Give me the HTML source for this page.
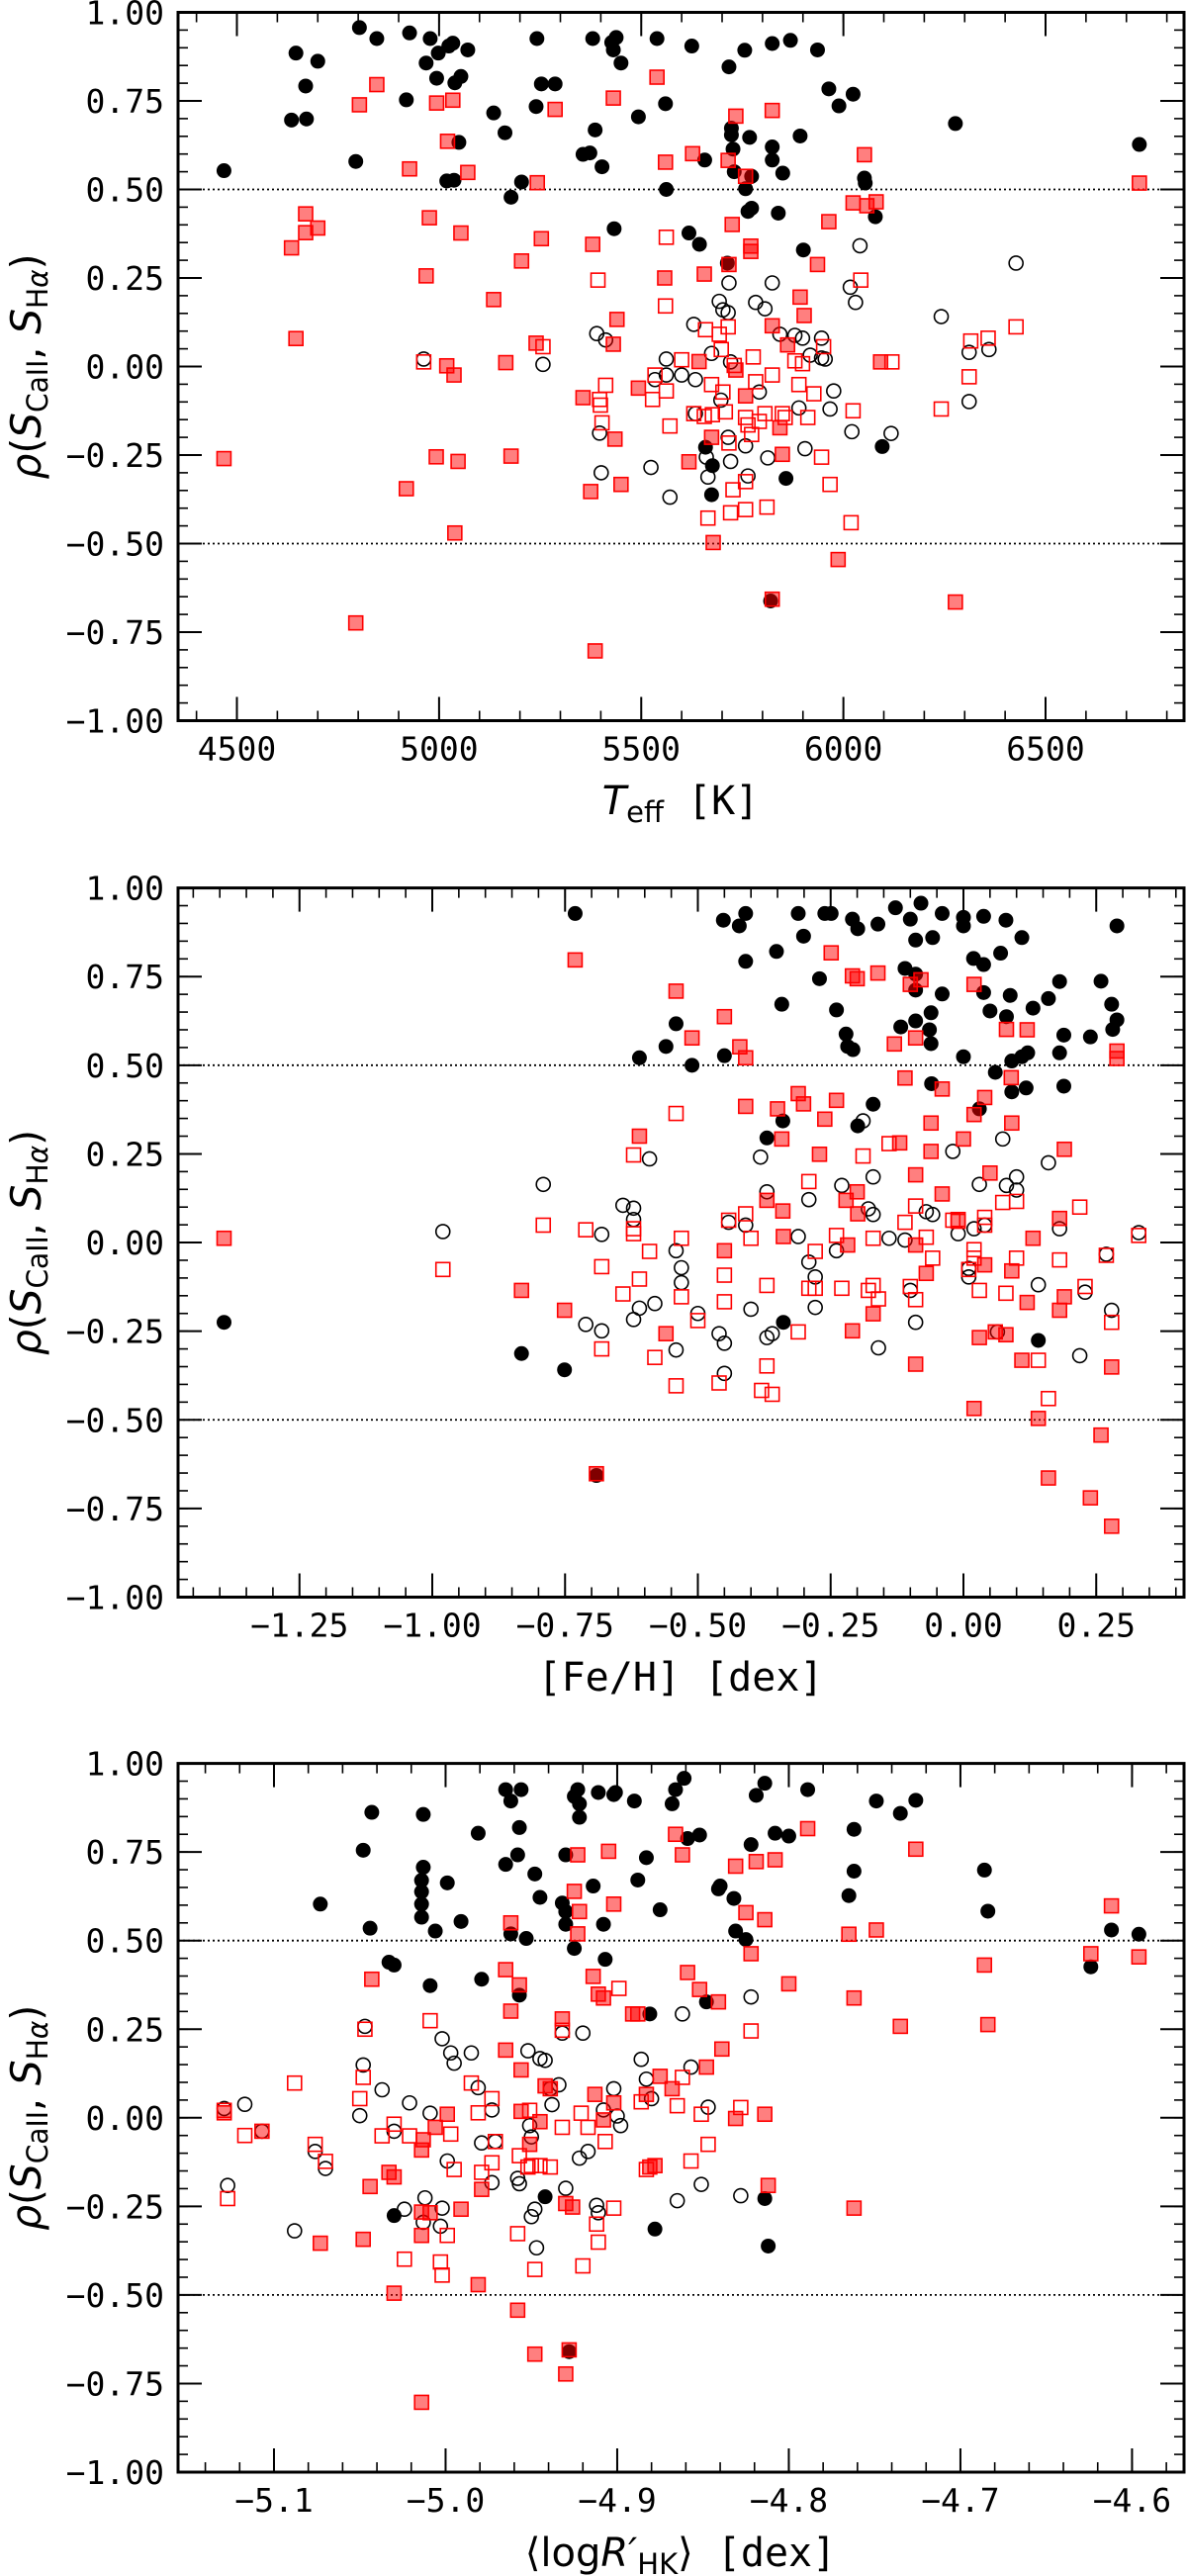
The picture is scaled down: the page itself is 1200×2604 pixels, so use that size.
<!DOCTYPE html>
<html><head><meta charset="utf-8"><title>rho(SCaII, SHalpha) vs stellar parameters</title>
<style>
html,body{margin:0;padding:0;background:#fff;}
svg{display:block;}
.tk{font-family:"DejaVu Sans Mono","Liberation Mono",monospace;font-size:33px;fill:#000;}
.lab{font-family:"DejaVu Sans Mono","Liberation Mono",monospace;font-size:40px;fill:#000;}
.math{font-family:"DejaVu Sans","Liberation Sans",sans-serif;}
</style></head>
<body>
<svg id="fig" width="1200" height="2604" viewBox="0 0 1200 2604" xmlns="http://www.w3.org/2000/svg">
<rect width="1200" height="2604" fill="#fff"/>
</svg>
<script>
// ---------------- Panel 1: Teff ----------------
const p1FilledX=[4468,4646,4635,4670,4672,4700,4794,4803,4846,4919,4927,4968,4978,4994,4998,5019,5024,5037,5039,5034,5049,5054,5071,5135,5163,5178,5204,5240,5242,5253,5287,5356,5373,5380,5386,5403,5427,5433,5438,5431,5450,5493,5539,5560,5562,5618,5625,5644,5657,5717,5723,5723,5727,5730,5758,5756,5768,5773,5764,5773,5824,5824,5824,5839,5850,5869,5893,5901,5936,5964,5989,6024,6052,6054,6079,6096,6277,6732,5659,5676,5674,5858,5820,5713];
const p1FilledY=[0.553,0.885,0.696,0.792,0.699,0.862,0.579,0.957,0.926,0.753,0.942,0.857,0.926,0.814,0.885,0.524,0.905,0.526,0.801,0.913,0.633,0.819,0.894,0.716,0.660,0.478,0.521,0.734,0.926,0.798,0.798,0.599,0.603,0.926,0.668,0.564,0.915,0.389,0.929,0.894,0.857,0.705,0.926,0.742,0.5,0.377,0.905,0.345,0.583,0.846,0.673,0.654,0.614,0.55,0.502,0.893,0.647,0.537,0.438,0.447,0.912,0.62,0.583,0.433,0.546,0.921,0.651,0.329,0.894,0.784,0.736,0.769,0.532,0.518,0.423,-0.226,0.686,0.627,-0.228,-0.280,-0.362,-0.316,-0.662,0.292];
const p1OpenX=[4962,5257,5390,5412,5397,5401,5524,5571,5562,5562,5534,5600,5630,5634,5634,5674,5693,5702,5715,5721,5717,5715,5721,5697,5665,5661,5783,5806,5824,5792,5758,5764,5813,5843,5880,5899,5946,5946,5955,5918,5890,5905,5967,5976,6017,6030,6041,6021,6118,6242,6311,6311,6360,6427];
const p1OpenY=[0.021,0.006,0.093,0.075,-0.188,-0.3,-0.285,-0.369,0.021,-0.024,-0.037,-0.024,0.119,-0.037,-0.133,0.037,0.184,0.16,0.152,0.013,0.236,-0.2,-0.268,-0.095,-0.312,-0.256,0.181,0.163,0.236,-0.072,-0.224,-0.309,-0.258,0.091,0.088,0.08,0.08,0.024,0.021,0.032,-0.117,-0.232,-0.12,-0.069,0.224,0.181,0.341,-0.184,-0.189,0.141,0.04,-0.099,0.048,0.292];
const p1SqX=[4468,4635,4646,4670,4670,4700,4803,4846,4794,4919,4927,4968,4976,4994,4993,5019,5021,5034,5037,5039,5047,5054,5071,5135,5165,5178,5204,5240,5243,5253,5287,5356,5375,5380,5386,5431,5431,5435,5440,5450,5493,5539,5560,5558,5618,5627,5643,5656,5678,5674,5715,5725,5717,5734,5758,5758,5771,5771,5824,5824,5824,5843,5849,5862,5893,5903,5936,5964,5987,6024,6052,6058,6081,6092,6277,6732,5734];
const p1SqY=[-0.26,0.335,0.079,0.431,0.378,0.391,0.739,0.796,-0.724,-0.345,0.558,0.256,0.42,0.744,-0.255,0.002,0.636,0.752,-0.024,-0.47,-0.268,0.377,0.548,0.189,0.011,-0.253,0.298,0.066,0.519,0.361,0.726,-0.088,-0.353,0.345,-0.803,0.758,0.063,-0.205,0.133,-0.333,-0.061,0.817,0.577,0.25,-0.269,0.601,0.014,0.261,-0.497,-0.2,0.582,0.401,0.288,0.707,-0.083,0.537,0.34,0.325,0.723,0.115,-0.657,-0.173,-0.248,0.061,0.196,0.144,0.288,0.409,-0.545,0.462,0.598,0.454,0.465,0.013,-0.665,0.518,-0.01];
const p1OSqX=[4962,5257,5393,5397,5399,5403,5412,5528,5534,5562,5562,5560,5571,5600,5630,5656,5665,5659,5674,5676,5693,5698,5702,5708,5715,5717,5721,5727,5730,5758,5764,5777,5783,5758,5758,5773,5792,5806,5811,5824,5849,5856,5880,5890,5899,5912,5927,5946,5951,5967,6019,6024,6043,6120,6242,6311,6315,6358,6427];
const p1OSqY=[0.013,0.056,0.244,-0.093,-0.109,-0.159,-0.053,-0.093,-0.024,-0.069,0.365,0.171,-0.168,0.019,-0.133,-0.141,-0.428,0.104,-0.051,-0.136,0.091,0.048,-0.072,-0.128,0.112,-0.216,-0.413,-0.348,0.003,-0.144,-0.165,0.027,-0.043,-0.404,-0.325,-0.192,-0.155,-0.133,-0.397,-0.024,-0.133,-0.144,0.016,-0.051,0.008,-0.144,-0.077,-0.256,0.056,-0.333,-0.441,-0.125,0.244,0.013,-0.12,-0.029,0.072,0.08,0.112];
const p1XTicks=[4500,5000,5500,6000,6500];
const p1XTickLabels=["4500","5000","5500","6000","6500"];

// ---------------- Panel 2: [Fe/H] ----------------
const p2FilledX=[-1.392,-0.832,-0.751,-0.731,-0.691,-0.61,-0.56,-0.541,-0.511,-0.452,-0.45,-0.422,-0.41,-0.41,-0.37,-0.352,-0.342,-0.34,-0.339,-0.311,-0.301,-0.271,-0.261,-0.249,-0.239,-0.221,-0.218,-0.208,-0.209,-0.199,-0.199,-0.17,-0.161,-0.128,-0.118,-0.11,-0.1,-0.09,-0.09,-0.09,-0.08,-0.09,-0.064,-0.061,-0.06,-0.061,-0.058,-0.04,-0.04,0,0,0,0.019,0.03,0.038,0.038,0.038,0.05,0.06,0.07,0.08,0.081,0.088,0.091,0.091,0.11,0.11,0.118,0.121,0.131,0.141,0.16,0.181,0.181,0.189,0.189,0.239,0.259,0.279,0.281,0.289,0.289];
const p2FilledY=[-0.225,-0.313,-0.359,0.928,-0.657,0.521,0.553,0.617,0.5,0.909,0.527,0.893,0.928,0.793,0.295,0.821,0.672,0.343,-0.225,0.928,0.864,0.744,0.928,0.928,0.656,0.588,0.553,0.544,0.912,0.885,0.329,0.39,0.898,0.944,0.608,0.773,0.912,0.853,0.712,0.625,0.957,0.757,0.6,0.561,0.448,0.648,0.86,0.928,0.701,0.917,0.893,0.524,0.801,0.377,0.92,0.784,0.705,0.653,0.48,0.816,0.909,0.637,0.697,0.512,0.425,0.86,0.524,0.436,0.535,0.661,-0.276,0.688,0.736,0.535,0.585,0.441,0.58,0.737,0.672,0.601,0.628,0.893];
const p2OpenX=[-0.98,-0.791,-0.711,-0.681,-0.681,-0.641,-0.621,-0.621,-0.621,-0.61,-0.591,-0.581,-0.541,-0.531,-0.531,-0.541,-0.5,-0.46,-0.45,-0.45,-0.442,-0.41,-0.4,-0.382,-0.37,-0.37,-0.36,-0.311,-0.291,-0.291,-0.279,-0.279,-0.239,-0.229,-0.189,-0.179,-0.17,-0.17,-0.16,-0.14,-0.11,-0.1,-0.09,-0.07,-0.058,-0.02,-0.01,0.01,0.01,0.02,0.03,0.04,0.064,0.074,0.081,0.1,0.1,0.141,0.16,0.181,0.219,0.229,0.269,0.279,0.33];
const p2OpenY=[0.031,0.164,-0.231,0.023,-0.249,0.105,0.097,0.065,-0.217,-0.185,0.236,-0.172,-0.023,-0.071,-0.113,-0.303,-0.2,-0.257,-0.284,-0.369,0.057,0.049,-0.188,0.241,0.143,-0.268,-0.257,0.017,0.121,-0.055,-0.097,-0.183,-0.023,0.161,0.343,0.095,0.079,0.185,-0.297,0.012,0.007,-0.135,-0.225,0.087,0.079,0.257,0.025,-0.073,-0.097,0.039,0.164,0.049,-0.252,0.292,0.161,0.185,0.148,-0.119,0.225,0.039,-0.319,-0.14,-0.033,-0.191,0.028];
const p2SqX=[-1.392,-0.832,-0.751,-0.731,-0.691,-0.61,-0.56,-0.541,-0.511,-0.45,-0.45,-0.421,-0.41,-0.41,-0.35,-0.342,-0.34,-0.339,-0.37,-0.311,-0.301,-0.271,-0.261,-0.249,-0.239,-0.221,-0.218,-0.209,-0.2,-0.2,-0.199,-0.209,-0.17,-0.161,-0.13,-0.12,-0.11,-0.1,-0.09,-0.09,-0.09,-0.08,-0.09,-0.07,-0.061,-0.061,-0.04,-0.04,-0.01,0,0.02,0.02,0.02,0.03,0.04,0.05,0.04,0.06,0.08,0.081,0.09,0.091,0.091,0.11,0.12,0.12,0.131,0.141,0.16,0.181,0.181,0.19,0.19,0.239,0.259,0.279,0.279,0.289,0.289];
const p2SqY=[0.012,-0.135,-0.191,0.797,-0.652,0.3,-0.257,0.709,0.577,0.637,-0.023,0.552,0.384,0.521,0.377,0.292,0.089,0.017,0.119,0.42,0.391,0.249,0.348,0.817,0.401,0.119,-0.007,0.752,0.744,0.143,0.081,-0.249,-0.201,0.76,0.56,0.281,0.464,0.728,0.577,0.191,-0.007,0.741,-0.343,-0.087,0.337,0.257,0.433,0.137,0.065,0.292,0.728,0.361,-0.468,-0.268,0.409,0.196,-0.063,-0.252,-0.26,0.601,0.465,0.337,-0.08,-0.332,0.6,-0.169,0.012,-0.496,-0.664,0.068,-0.191,-0.153,0.263,-0.72,-0.543,-0.351,-0.8,0.54,0.519];
const p2OSqX=[-0.98,-0.791,-0.711,-0.681,-0.681,-0.641,-0.621,-0.621,-0.621,-0.61,-0.591,-0.581,-0.541,-0.541,-0.531,-0.531,-0.5,-0.46,-0.45,-0.45,-0.442,-0.41,-0.4,-0.38,-0.37,-0.37,-0.36,-0.311,-0.291,-0.291,-0.279,-0.279,-0.239,-0.229,-0.189,-0.179,-0.17,-0.16,-0.17,-0.14,-0.11,-0.1,-0.09,-0.09,-0.07,-0.058,-0.02,-0.01,0.01,0.02,0.02,0.03,0.04,0.04,0.074,0.08,0.1,0.1,0.141,0.16,0.181,0.219,0.229,0.269,0.279,0.33];
const p2OSqY=[-0.076,0.049,0.036,-0.068,-0.3,-0.145,0.247,0.039,0.025,-0.103,-0.025,-0.324,0.364,-0.404,0.012,-0.153,-0.22,-0.396,-0.092,-0.167,0.063,0.081,0.012,-0.417,-0.348,-0.121,-0.428,-0.252,0.172,-0.129,-0.129,-0.025,0.02,-0.129,0.244,-0.135,-0.121,-0.159,0.012,0.279,0.057,-0.124,0.103,-0.161,0.015,-0.044,0.063,0.06,-0.076,-0.044,-0.02,-0.135,0.071,0.049,0.113,-0.143,0.116,-0.044,-0.332,-0.44,-0.049,0.1,-0.124,-0.036,-0.225,0.02];
const p2XTicks=[-1.25,-1.00,-0.75,-0.50,-0.25,0.00,0.25];
const p2XTickLabels=["\u22121.25","\u22121.00","\u22120.75","\u22120.50","\u22120.25","0.00","0.25"];

// ---------------- Panel 3: <log R'HK> ----------------
const p3FilledX=[-5.073,-5.048,-5.044,-5.043,-5.033,-5.03,-5.03,-5.014,-5.014,-5.014,-5.013,-5.014,-5.013,-5.009,-5.006,-4.999,-4.991,-4.981,-4.979,-4.965,-4.965,-4.962,-4.962,-4.958,-4.957,-4.956,-4.957,-4.953,-4.948,-4.945,-4.942,-4.932,-4.93,-4.93,-4.93,-4.925,-4.925,-4.923,-4.922,-4.922,-4.928,-4.914,-4.911,-4.908,-4.907,-4.902,-4.901,-4.89,-4.888,-4.883,-4.881,-4.878,-4.875,-4.868,-4.866,-4.861,-4.859,-4.852,-4.848,-4.841,-4.84,-4.832,-4.831,-4.825,-4.822,-4.819,-4.814,-4.814,-4.812,-4.808,-4.8,-4.789,-4.765,-4.762,-4.762,-4.749,-4.735,-4.726,-4.686,-4.684,-4.624,-4.612,-4.596];
const p3FilledY=[0.603,0.755,0.535,0.862,0.439,0.431,-0.276,0.603,0.638,0.67,0.707,0.566,0.856,0.373,0.527,0.663,0.554,0.803,0.391,0.926,0.715,0.894,0.519,0.742,0.819,0.926,0.346,0.506,0.688,0.622,-0.223,0.606,0.742,0.582,0.546,0.478,0.907,0.926,0.886,0.848,-0.66,0.654,0.918,0.546,0.447,0.912,0.918,0.894,0.671,0.734,0.293,-0.314,0.587,0.886,0.926,0.958,0.788,0.798,0.327,0.646,0.654,0.619,0.527,0.503,0.771,0.91,0.944,-0.228,-0.362,0.803,0.795,0.926,0.627,0.814,0.696,0.894,0.859,0.896,0.699,0.583,0.426,0.53,0.518];
const p3OpenX=[-5.129,-5.127,-5.117,-5.107,-5.088,-5.076,-5.07,-5.05,-5.048,-5.047,-5.037,-5.03,-5.024,-5.021,-5.012,-5.013,-5.009,-5.003,-5.002,-5.002,-4.999,-4.997,-4.995,-4.985,-4.981,-4.979,-4.973,-4.971,-4.973,-4.958,-4.957,-4.952,-4.951,-4.95,-4.95,-4.948,-4.947,-4.945,-4.942,-4.939,-4.938,-4.934,-4.932,-4.93,-4.92,-4.922,-4.917,-4.912,-4.911,-4.908,-4.902,-4.9,-4.898,-4.886,-4.883,-4.88,-4.865,-4.862,-4.857,-4.851,-4.847,-4.828,-4.822];
const p3OpenY=[0.026,-0.191,0.038,-0.038,-0.319,-0.095,-0.143,0.006,0.149,0.258,0.079,-0.038,-0.258,0.042,-0.226,-0.295,0.013,-0.306,-0.255,0.223,-0.122,0.183,0.154,0.183,0.085,-0.071,0.022,-0.067,-0.183,-0.171,-0.186,0.189,-0.022,-0.054,-0.279,-0.258,-0.367,0.167,0.162,0.082,0.037,0.093,0.239,-0.199,0.239,-0.114,-0.095,-0.247,-0.268,0.022,0.082,0.005,-0.022,0.165,0.109,0.054,-0.234,0.293,0.143,-0.188,0.03,-0.22,0.341];
const p3SqX=[-5.129,-5.107,-5.073,-5.048,-5.044,-5.043,-5.033,-5.03,-5.03,-5.014,-5.013,-5.014,-5.014,-5.014,-5.009,-5.006,-4.999,-4.991,-4.981,-4.979,-4.965,-4.965,-4.962,-4.962,-4.958,-4.957,-4.956,-4.956,-4.951,-4.948,-4.945,-4.942,-4.939,-4.932,-4.93,-4.93,-4.928,-4.926,-4.925,-4.923,-4.922,-4.923,-4.914,-4.913,-4.911,-4.908,-4.908,-4.905,-4.902,-4.902,-4.891,-4.888,-4.883,-4.881,-4.878,-4.875,-4.868,-4.866,-4.862,-4.859,-4.852,-4.848,-4.841,-4.839,-4.831,-4.831,-4.825,-4.822,-4.819,-4.814,-4.814,-4.812,-4.808,-4.8,-4.789,-4.765,-4.762,-4.762,-4.749,-4.735,-4.726,-4.686,-4.684,-4.624,-4.612,-4.596];
const p3SqY=[0.014,-0.038,-0.354,-0.343,-0.194,0.391,-0.154,-0.167,-0.495,-0.091,-0.062,-0.266,-0.332,-0.803,-0.268,-0.027,0.01,-0.258,-0.471,-0.202,0.418,0.191,0.301,0.55,-0.543,0.375,0.135,0.018,-0.075,-0.667,-0.011,0.09,0.082,0.279,-0.242,-0.723,-0.655,-0.252,0.639,0.742,0.582,0.519,0.399,0.066,0.349,0.338,-0.006,0.752,0.603,0.042,0.293,0.293,0.066,-0.139,-0.135,0.117,0.082,0.8,0.742,0.41,0.362,0.143,0.327,0.194,0.71,-0.002,0.579,0.463,0.723,0.559,0.01,-0.191,0.728,0.378,0.816,0.518,0.338,-0.255,0.53,0.258,0.758,0.431,0.263,0.463,0.598,0.454];
const p3OSqX=[-5.129,-5.127,-5.117,-5.088,-5.076,-5.07,-5.05,-5.048,-5.047,-5.037,-5.03,-5.024,-5.021,-5.009,-5.003,-5.002,-4.999,-4.997,-4.995,-4.985,-4.981,-4.979,-4.973,-4.973,-4.971,-4.958,-4.957,-4.952,-4.951,-4.95,-4.948,-4.945,-4.939,-4.932,-4.932,-4.921,-4.92,-4.917,-4.912,-4.911,-4.907,-4.902,-4.899,-4.886,-4.883,-4.865,-4.862,-4.857,-4.851,-4.847,-4.828,-4.822];
const p3OSqY=[0.021,-0.228,-0.05,0.098,-0.075,-0.123,0.054,0.114,0.25,-0.051,-0.018,-0.399,-0.051,0.274,-0.407,-0.444,-0.332,-0.046,-0.146,0.098,0.014,-0.154,0.054,-0.127,-0.067,-0.327,-0.107,-0.139,0.021,-0.135,-0.428,-0.135,-0.139,-0.027,0.247,0.013,-0.418,-0.027,-0.3,-0.351,-0.067,-0.255,0.365,0.045,-0.146,0.034,0.114,-0.122,0.01,-0.075,0.029,0.245];
const p3XTicks=[-5.1,-5.0,-4.9,-4.8,-4.7,-4.6];
const p3XTickLabels=["\u22125.1","\u22125.0","\u22124.9","\u22124.8","\u22124.7","\u22124.6"];

const yTicks=[1.00,0.75,0.50,0.25,0.00,-0.25,-0.50,-0.75,-1.00];
const yTickLabels=["1.00","0.75","0.50","0.25","0.00","\u22120.25","\u22120.50","\u22120.75","\u22121.00"];

const NS="http://www.w3.org/2000/svg";
const fig=document.getElementById('fig');
function mk(tag,attrs,parent){const e=document.createElementNS(NS,tag);for(const k in attrs)e.setAttribute(k,attrs[k]);(parent||fig).appendChild(e);return e;}

function drawPanel(cfg){
  const L=180,R=1197,T=cfg.top,B=cfg.bottom;
  const sx=v=>L+(v-cfg.xmin)/(cfg.xmax-cfg.xmin)*(R-L);
  const sy=v=>B-(v+1)/2*(B-T);
  const g=mk('g',{});
  
  
  // dotted reference lines
  [0.5,-0.5].forEach(v=>{
    const ln=mk('line',{x1:L,x2:R,y1:sy(v),y2:sy(v),stroke:'#000','stroke-width':1.8,'stroke-dasharray':'2,3'},g);
    
    
  });
  // markers
  const mg=mk('g',{},g);
  
  
  cfg.openX.forEach((x,i)=>{
    const c=mk('circle',{cx:sx(x),cy:sy(cfg.openY[i]),r:7,fill:'none',stroke:'#000','stroke-width':1.6},mg);
    
    
  });
  cfg.filledX.forEach((x,i)=>{
    const c=mk('circle',{cx:sx(x),cy:sy(cfg.filledY[i]),r:7.5,fill:'#000'},mg);
    
    
  });
  cfg.osqX.forEach((x,i)=>{
    const s=mk('rect',{x:sx(x)-7,y:sy(cfg.osqY[i])-7,width:14,height:14,fill:'none',stroke:'#ff0000','stroke-width':1.6},mg);
    
    
  });
  cfg.sqX.forEach((x,i)=>{
    const s=mk('rect',{x:sx(x)-7,y:sy(cfg.sqY[i])-7,width:14,height:14,fill:'rgba(255,0,0,0.5)',stroke:'#ff0000','stroke-width':1.6},mg);
    
    
  });
  // minor ticks
  for(let v=-1;v<=1.0001;v+=0.05){
    const y=sy(v);
    mk('line',{x1:L,x2:L+10,y1:y,y2:y,stroke:'#000','stroke-width':1.6},g);
    mk('line',{x1:R,x2:R-10,y1:y,y2:y,stroke:'#000','stroke-width':1.6},g);
  }
  for(let v=cfg.minStart;v<=cfg.xmax+1e-9;v+=cfg.minStep){
    if(v<cfg.xmin)continue;
    const x=sx(v);
    mk('line',{x1:x,x2:x,y1:B,y2:B-10,stroke:'#000','stroke-width':1.6},g);
    mk('line',{x1:x,x2:x,y1:T,y2:T+10,stroke:'#000','stroke-width':1.6},g);
  }
  // major y ticks + labels
  yTicks.forEach((v,i)=>{
    const y=sy(v);
    mk('line',{x1:L,x2:L+24,y1:y,y2:y,stroke:'#000','stroke-width':2},g);
    mk('line',{x1:R,x2:R-24,y1:y,y2:y,stroke:'#000','stroke-width':2},g);
    const t=mk('text',{x:166,y:y+12,'text-anchor':'end',class:'tk'},g);
    t.textContent=yTickLabels[i];
    
    
  });
  cfg.xTicks.forEach((v,i)=>{
    const x=sx(v);
    mk('line',{x1:x,x2:x,y1:B,y2:B-24,stroke:'#000','stroke-width':2},g);
    mk('line',{x1:x,x2:x,y1:T,y2:T+24,stroke:'#000','stroke-width':2},g);
    const t=mk('text',{x:x,y:B+40,'text-anchor':'middle',class:'tk'},g);
    t.textContent=cfg.xTickLabels[i];
    
    
  });
  // frame
  const fr=mk('rect',{x:L,y:T,width:R-L,height:B-T,fill:'none',stroke:'#000','stroke-width':3},g);
  
  
  // y label
  const cy=(T+B)/2;
  const yl=mk('text',{x:0,y:0,transform:`translate(41,${cy}) rotate(-90)`,'text-anchor':'middle',class:'math','font-size':42,textLength:228,lengthAdjust:'spacingAndGlyphs'},g);
  yl.innerHTML='<tspan font-style="italic">ρ</tspan>(<tspan font-style="italic">S</tspan><tspan font-size="29" dy="7">CaII</tspan><tspan dy="-7">, </tspan><tspan font-style="italic">S</tspan><tspan font-size="29" dy="7">H<tspan font-style="italic">α</tspan></tspan><tspan dy="-7">)</tspan>';
  
  
  // x label
  const xl=mk('text',{x:688,y:cfg.xlabY,'text-anchor':'middle',class:'lab'},g);
  xl.innerHTML=cfg.xlabHTML;
  
  
}

drawPanel({name:'panel-teff',top:12.5,bottom:728.5,xmin:4354.4,xmax:6842.5,minStart:4400,minStep:100,
  xTicks:p1XTicks,xTickLabels:p1XTickLabels,filledX:p1FilledX,filledY:p1FilledY,openX:p1OpenX,openY:p1OpenY,
  sqX:p1SqX,sqY:p1SqY,osqX:p1OSqX,osqY:p1OSqY,xlabY:823,
  xlabHTML:'<tspan class="math" font-style="italic">T</tspan><tspan class="math" font-size="29" dy="8">eff</tspan><tspan dy="-8">  [K]</tspan>'});
drawPanel({name:'panel-feh',top:897.6,bottom:1614.5,xmin:-1.4786,xmax:0.4153,minStart:-1.45,minStep:0.05,
  xTicks:p2XTicks,xTickLabels:p2XTickLabels,filledX:p2FilledX,filledY:p2FilledY,openX:p2OpenX,openY:p2OpenY,
  sqX:p2SqX,sqY:p2SqY,osqX:p2OSqX,osqY:p2OSqY,xlabY:1709,
  xlabHTML:'[Fe/H] [dex]'});
drawPanel({name:'panel-logrhk',top:1782.6,bottom:2499,xmin:-5.1559,xmax:-4.5697,minStart:-5.14,minStep:0.02,
  xTicks:p3XTicks,xTickLabels:p3XTickLabels,filledX:p3FilledX,filledY:p3FilledY,openX:p3OpenX,openY:p3OpenY,
  sqX:p3SqX,sqY:p3SqY,osqX:p3OSqX,osqY:p3OSqY,xlabY:2594,
  xlabHTML:'<tspan class="math">⟨log</tspan><tspan class="math" font-style="italic">R′</tspan><tspan class="math" font-size="29" dy="8">HK</tspan><tspan class="math" dy="-8">⟩</tspan><tspan>  [dex]</tspan>'});
</script>
</body></html>
